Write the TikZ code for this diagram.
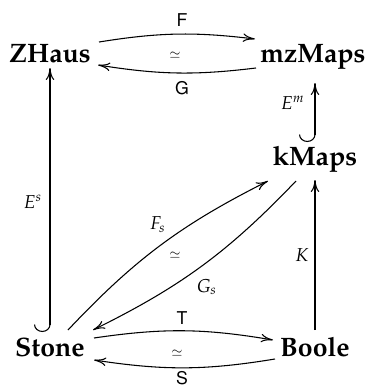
\documentclass[tikz,border=0pt]{standalone}
\usepackage[T1]{fontenc}
\usepackage{mathpazo}
\usepackage[scaled=0.92]{helvet}
\usetikzlibrary{arrows.meta}
\begin{document}
\begin{tikzpicture}[x=0.375pt,y=-0.375pt,
  obj/.style={font=\bfseries, inner sep=0pt, text height=7pt, text depth=2pt},
  lab/.style={font=\fontsize{7.2}{8}\selectfont\sffamily, inner sep=0pt},
  mlab/.style={font=\scriptsize, inner sep=0pt},
  iso/.style={font=\tiny, inner sep=0pt},
  arr/.style={-{To[length=4.5pt,width=3.2pt]}, line width=0.4pt},
  hk/.style={{Hooks[right,length=2.8pt,width=12pt]}-{To[length=4.5pt,width=3.2pt]}, line width=0.4pt}]
\useasboundingbox (0,0) rectangle (369,389);
% objects
\node[obj] (zh) at (50,56.3) {ZHaus};
\node[obj] (mz) at (313,56.3) {mzMaps};
\node[obj] (km) at (315,159.3) {kMaps};
\node[obj] (st) at (50,350.3) {Stone};
\node[obj] (bo) at (315,350.3) {Boole};
% top pair
\draw[arr] ([shift={(49,-14.3)}]zh.center) to[bend left=8] ([shift={(-58,-17.3)}]mz.center);
\draw[arr] ([shift={(-57,11.7)}]mz.center) to[bend left=8] ([shift={(48,8.7)}]zh.center);
\node[lab] (F) at (182,20) {F};
\node[lab] (G) at (182,88) {G};
\node[iso] (i1) at (175,55) {$\simeq$};
% bottom pair
\draw[arr] ([shift={(44,-12.3)}]st.center) to[bend left=9] ([shift={(-42,-10.3)}]bo.center);
\draw[arr] ([shift={(-40,8.7)}]bo.center) to[bend left=9] ([shift={(44,9.7)}]st.center);
\node[lab] (T) at (182,318) {T};
\node[lab] (S) at (182,378) {S};
\node[iso] (i2) at (177,353) {$\simeq$};
% diagonal pair
\draw[arr] ([shift={(18,-20.3)}]st.center) to[bend left=10] ([shift={(-47,21.7)}]km.center);
\draw[arr] ([shift={(-19,21.7)}]km.center) to[bend left=10] ([shift={(43,-20.3)}]st.center);
\node[mlab] (Fs) at (158,225) {$F_s$};
\node[mlab] (Gs) at (207,287) {$G_s$};
\node[iso] (i3) at (175,255) {$\simeq$};
% verticals
\draw[hk] ([shift={(0,-18.3)}]st.center) -- ([shift={(0,11.7)}]zh.center);
\draw[hk] ([shift={(0,-17.3)}]km.center) -- ([shift={(2,26.7)}]mz.center);
\draw[arr] ([shift={(0,-20.3)}]bo.center) -- ([shift={(0,20.7)}]km.center);
\node[mlab] (Es) at (33,202) {$E^s$};
\node[mlab] (Em) at (293,103) {$E^m$};
\node[mlab] (K) at (302,255) {$K$};
\end{tikzpicture}
\end{document}
